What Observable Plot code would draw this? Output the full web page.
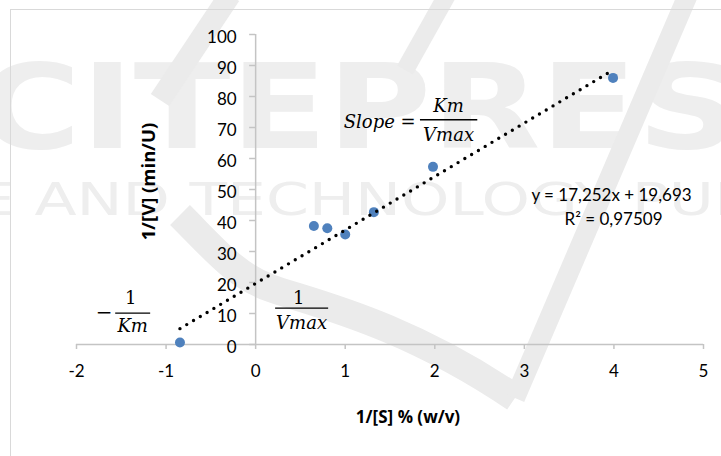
<!DOCTYPE html>
<html>
<head>
<meta charset="utf-8">
<script src="https://cdn.jsdelivr.net/npm/d3@7"></script>
<script src="https://cdn.jsdelivr.net/npm/@observablehq/plot@0.6"></script>
<style>
  html, body { margin: 0; padding: 0; background: #fff; overflow: hidden; }
  #wrap { position: relative; width: 721px; height: 456px; }
  #wrap > * { position: absolute; left: 0; top: 0; }
  #border { left: 10px; top: 9px; width: 760px; height: 480px; border: 1.5px solid #d9d9d9; box-sizing: border-box; }
</style>
</head>
<body>
<div id="wrap">
  <svg id="backdrop" width="721" height="456">
    <g fill="#eeeeee">
      <text x="-125" y="148" font-family="DejaVu Sans" font-weight="bold" font-size="117" textLength="960" lengthAdjust="spacingAndGlyphs">SCITEPRESS</text>
      <text x="-252" y="215" font-family="DejaVu Sans" font-size="45" textLength="1330" lengthAdjust="spacingAndGlyphs">SCIENCE AND TECHNOLOGY PUBLICATIONS</text>
    </g>
    <g fill="none" stroke="#ebebeb">
      <path d="M230,-5 L160,100" stroke-width="22"/>
      <path d="M180,215 C215,250 235,275 270,288 S400,320 515,398" stroke-width="28"/>
      <path d="M515,398 L690,-10" stroke-width="20"/>
      <path d="M447,-5 L405,70" stroke-width="18"/>
    </g>
  </svg>
  <div id="border"></div>
  <div id="chart"></div>
</div>
<script>
// Lineweaver–Burk data: 1/[S] (% w/v) against 1/[V] (min/U)
const invSubstrate = [-0.845, 0.65, 0.80, 1.00, 1.32, 1.98, 3.99];
const invRate      = [0.65, 38.2, 37.5, 35.5, 42.7, 57.3, 86.0];

// Linear trendline fitted to the points
const slope = 17.252;
const intercept = 19.693;
const rSquared = 0.97509;

const xTicks = [-2, -1, 0, 1, 2, 3, 4, 5];
const yTicks = [0, 10, 20, 30, 40, 50, 60, 70, 80, 90, 100];

const xTitle = "1/[S] % (w/v)";
const yTitle = "1/[V] (min/U)";

const comma = v => String(v).replace(".", ",");
const equation = [`y = ${comma(slope)}x + ${comma(intercept)}`, `R² = ${comma(rSquared)}`];

const points = invSubstrate.map((x, i) => ({x, y: invRate[i]}));
const [xLo, xHi] = d3.extent(invSubstrate);
const trend = [xLo, xHi].map(x => ({x, y: slope * x + intercept}));

// Placement of the formula annotations (in data units)
const slopeLabel = [{x: 1.786, y: 70.0, text: "Slope ="}];
const mathItalic = [
  {x: 2.154, y: 75.0, text: "Km"},
  {x: 2.154, y: 65.8, text: "Vmax"},
  {x: -1.373, y: 4.1, text: "Km"},
  {x: 0.513, y: 5.1, text: "Vmax"}
];
const mathUpright = [
  {x: -1.395, y: 13.15, text: "1"},
  {x: 0.48, y: 13.15, text: "1"}
];
const fractionBars = [
  {y: 72.5, x1: 1.84, x2: 2.48},
  {y: 10.15, x1: -1.5625, x2: -1.172},
  {y: 11.76, x1: 0.223, x2: 0.815}
];
const minusSign = [{x: -1.691, y: 10.3}];
const equationPlace = [{x: 3.973, y: 46.2}, {x: 3.996, y: 38.7}];

const W = 721, H = 456, mL = 76, mR = 18, mT = 34, mB = 112;
const xDomain = [-2, 5];
// horizontal offset of the vertical axis (it sits at x = 0, not at the frame edge)
const yAxisShift = (W - mL - mR) * (0 - xDomain[0]) / (xDomain[1] - xDomain[0]);

const axisGray = "#c4c4c4";
const mathFont = {fontFamily: "DejaVu Serif", fontSize: 18, fill: "#000"};
const titleFont = {fontFamily: "Open Sans, sans-serif", fontWeight: "bold", fill: "#000"};

const chart = Plot.plot({
  width: W,
  height: H,
  marginLeft: mL,
  marginRight: mR,
  marginTop: mT,
  marginBottom: mB,
  x: {domain: xDomain},
  y: {domain: [0, 100]},
  style: {background: "transparent", fontFamily: "Lato, sans-serif", fontSize: "17px", color: "#000"},
  marks: [
    Plot.ruleY([0], {stroke: axisGray, strokeWidth: 1.5}),
    Plot.ruleX([0], {stroke: axisGray, strokeWidth: 1.5}),
    Plot.axisX({ticks: xTicks, tickSize: 5, tickPadding: 15, stroke: axisGray, strokeWidth: 1.5, fill: "#000", tickFormat: d => String(d), label: null}),
    Plot.axisY({ticks: yTicks, anchor: "left", tickSize: 6, stroke: axisGray, strokeWidth: 1.5, dx: yAxisShift, tickFormat: () => "", label: null}),
    Plot.text(yTicks, {x: 0, y: d => d, text: d => String(d), textAnchor: "end", lineAnchor: "bottom", dx: -19, dy: 8, fill: "#000"}),
    Plot.dot(points, {x: "x", y: "y", r: 5, fill: "#4f81bd"}),
    Plot.line(trend, {x: "x", y: "y", stroke: "#000", strokeWidth: 3.4, strokeDasharray: "0 7.9", strokeLinecap: "round"}),
    Plot.text(equation, {x: (d, i) => equationPlace[i].x, y: (d, i) => equationPlace[i].y, text: d => d, lineAnchor: "bottom", fill: "#000"}),
    Plot.text(slopeLabel, {x: "x", y: "y", text: "text", textAnchor: "end", lineAnchor: "bottom", fontStyle: "italic", ...mathFont}),
    Plot.text(mathItalic, {x: "x", y: "y", text: "text", textAnchor: "middle", lineAnchor: "bottom", fontStyle: "italic", ...mathFont}),
    Plot.text(mathUpright, {x: "x", y: "y", text: "text", textAnchor: "middle", lineAnchor: "bottom", ...mathFont}),
    Plot.text(minusSign, {x: "x", y: "y", text: () => "−", ...mathFont, fontSize: 20}),
    Plot.ruleY(fractionBars, {y: "y", x1: "x1", x2: "x2", stroke: "#000", strokeWidth: 1.3}),
    Plot.text([yTitle], {text: d => d, frameAnchor: "left", rotate: -90, textAnchor: "middle", lineAnchor: "middle", dx: 73, dy: -8, fontSize: 18.5, ...titleFont}),
    Plot.text([xTitle], {text: d => d, frameAnchor: "bottom", textAnchor: "middle", lineAnchor: "middle", dx: 18, dy: 73, fontSize: 17, ...titleFont})
  ]
});

document.getElementById("chart").appendChild(chart);
</script>
</body>
</html>
